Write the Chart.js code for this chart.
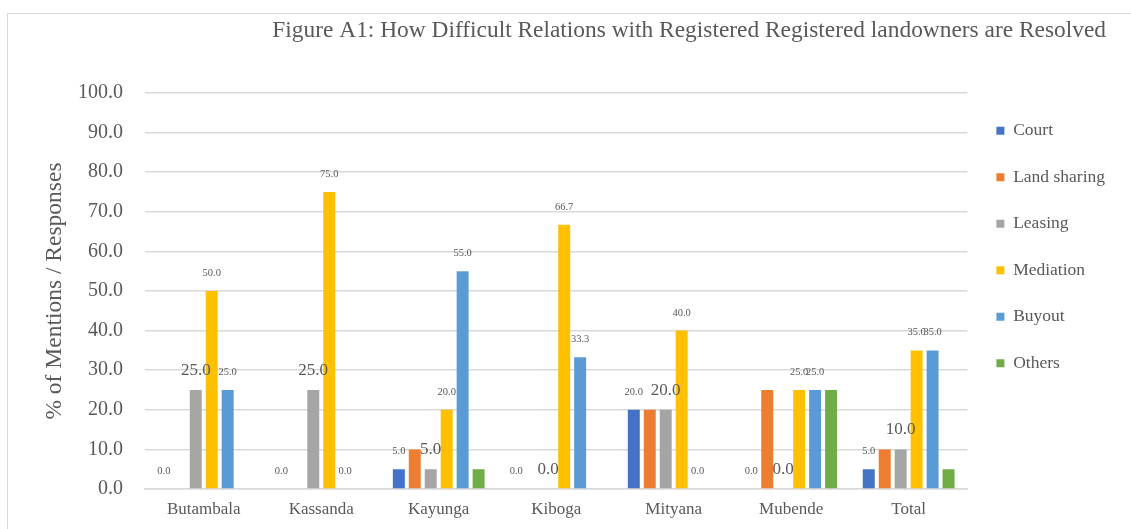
<!DOCTYPE html>
<html>
<head>
<meta charset="utf-8">
<script src="https://cdn.jsdelivr.net/npm/chart.js@4.4.1/dist/chart.umd.min.js"></script>
<style>
    html, body { margin: 0; padding: 0; background: #fff; }
    #wrap { position: relative; width: 1131px; height: 529px; }
    #frame { position: absolute; left: 7px; top: 13px; right: 0; bottom: 0; border-left: 1px solid #d9d9d9; border-top: 1px solid #d9d9d9; }
    #reliefChart { position: absolute; left: 0; top: 0; }
</style>
</head>
<body>
<div id="wrap">
    <div id="frame"></div>
    <canvas id="reliefChart" width="1131" height="529"></canvas>
</div>
<script>
// Figure A1 data (percent of mentions per district)
const districts = ['Butambala', 'Kassanda', 'Kayunga', 'Kiboga', 'Mityana', 'Mubende', 'Total'];
const court = [0, 0, 5, 0, 20, 0, 5];
const landSharing = [0, 0, 10, 0, 20, 25, 10];
const leasing = [25, 25, 5, 0, 20, 0, 10];
const mediation = [50, 75, 20, 66.7, 40, 25, 35];
const buyout = [25, 0, 55, 33.3, 0, 25, 35];
const others = [0, 0, 5, 0, 0, 25, 5];

const chartTitle = 'Figure A1: How Difficult Relations with Registered Registered landowners are Resolved';

const SERIF = '"Liberation Serif", "Times New Roman", serif';
const TEXT_GREY = '#595959';

// Value labels above bars (Excel style, only some series carry them)
const valueLabels = {
    id: 'valueLabels',
    afterDatasetsDraw(chart) {
        const ctx = chart.ctx;
        chart.data.datasets.forEach((ds, i) => {
            if (!ds.labelSize) return;
            const meta = chart.getDatasetMeta(i);
            ctx.save();
            ctx.font = ds.labelSize + 'px ' + SERIF;
            ctx.fillStyle = TEXT_GREY;
            ctx.textAlign = 'center';
            ctx.textBaseline = 'alphabetic';
            meta.data.forEach((bar, j) => {
                ctx.fillText(ds.data[j].toFixed(1), bar.x, bar.y - 15);
            });
            ctx.restore();
        });
    }
};

// Title sits right-aligned over the plot, independent of the legend column
const figureTitle = {
    id: 'figureTitle',
    afterDraw(chart) {
        const ctx = chart.ctx;
        ctx.save();
        ctx.font = '23.4px ' + SERIF;
        ctx.fillStyle = TEXT_GREY;
        ctx.textAlign = 'right';
        ctx.textBaseline = 'middle';
        ctx.fillText(chartTitle, chart.width - 25, 31);
        ctx.restore();
    }
};

const ctx = document.getElementById('reliefChart').getContext('2d');

new Chart(ctx, {
    type: 'bar',
    data: {
        labels: districts,
        datasets: [
            { label: 'Court', data: court, backgroundColor: '#4472C4', labelSize: 10.5 },
            { label: 'Land sharing', data: landSharing, backgroundColor: '#ED7D31' },
            { label: 'Leasing', data: leasing, backgroundColor: '#A5A5A5', labelSize: 17 },
            { label: 'Mediation', data: mediation, backgroundColor: '#FFC000', labelSize: 10.5 },
            { label: 'Buyout', data: buyout, backgroundColor: '#5B9BD5', labelSize: 10.5 },
            { label: 'Others', data: others, backgroundColor: '#70AD47' }
        ]
    },
    options: {
        responsive: false,
        animation: false,
        devicePixelRatio: 1,
        categoryPercentage: 0.815,
        barPercentage: 0.75,
        layout: { padding: { left: 40, right: 16, top: 93, bottom: 0 } },
        plugins: {
            title: { display: false },
            legend: {
                position: 'right',
                align: 'start',
                fullSize: false,
                labels: {
                    boxWidth: 8,
                    boxHeight: 8,
                    padding: 29,
                    color: TEXT_GREY,
                    font: { family: SERIF, size: 17.5 }
                }
            },
            tooltip: { enabled: false }
        },
        scales: {
            x: {
                afterFit: (scale) => { scale.height = 40; },
                grid: { display: false, drawTicks: false },
                border: { display: true, color: '#d9d9d9', width: 1.5 },
                ticks: {
                    color: TEXT_GREY,
                    padding: 10,
                    font: { family: SERIF, size: 17 }
                }
            },
            y: {
                min: 0,
                max: 100,
                afterFit: (scale) => { scale.width = 105; },
                grid: { color: '#d9d9d9', lineWidth: 1.5, drawTicks: false },
                border: { display: false },
                ticks: {
                    stepSize: 10,
                    padding: 22,
                    color: TEXT_GREY,
                    font: { family: SERIF, size: 20 },
                    callback: (value) => value.toFixed(1)
                },
                title: {
                    display: true,
                    text: '% of Mentions / Responses',
                    color: TEXT_GREY,
                    font: { family: SERIF, size: 23.5 },
                    padding: { top: 1, bottom: 0 }
                }
            }
        }
    },
    plugins: [valueLabels, figureTitle]
});
</script>
</body>
</html>
